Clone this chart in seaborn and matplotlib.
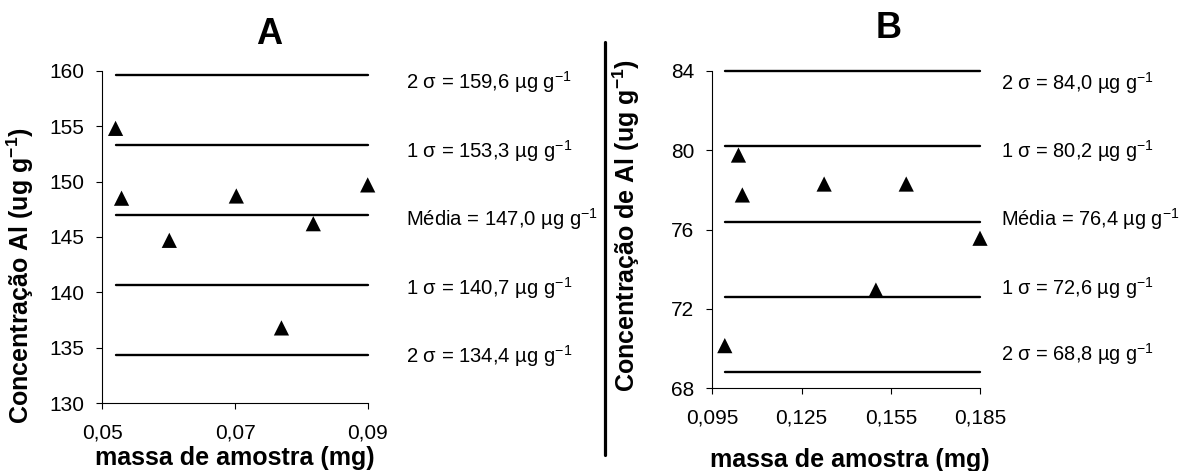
import numpy as np
import pandas as pd
import matplotlib
matplotlib.use("Agg")
import matplotlib.pyplot as plt
import seaborn as sns
from matplotlib.lines import Line2D

# ---------------- data ----------------
a_mass = [0.0520, 0.0529, 0.0601, 0.0702, 0.0770, 0.0818, 0.0900]
a_conc = [154.8, 148.5, 144.7, 148.7, 136.8, 146.2, 149.7]
a_levels = [159.6, 153.3, 147.0, 140.7, 134.4]
a_xticks = [0.05, 0.07, 0.09]
a_xticklabels = ["0,05", "0,07", "0,09"]
a_yticks = [130, 135, 140, 145, 150, 155, 160]

b_mass = [0.0992, 0.1038, 0.1051, 0.1326, 0.1500, 0.1602, 0.1850]
b_conc = [70.15, 79.75, 77.74, 78.29, 72.95, 78.29, 75.56]
b_levels = [84.0, 80.2, 76.4, 72.6, 68.8]
b_xticks = [0.095, 0.125, 0.155, 0.185]
b_xticklabels = ["0,095", "0,125", "0,155", "0,185"]
b_yticks = [68, 72, 76, 80, 84]

level_names = ["2 σ", "1 σ", "Média", "1 σ", "2 σ"]
unit = "µg g$^{-1}$"

# ---------------- style ----------------
sns.set_style("ticks")
plt.rcParams["font.family"] = ["Liberation Sans", "DejaVu Sans"]
plt.rcParams["mathtext.fontset"] = "custom"
plt.rcParams["mathtext.rm"] = "Liberation Sans"
plt.rcParams["mathtext.it"] = "Liberation Sans:italic"
plt.rcParams["mathtext.bf"] = "Liberation Sans:bold"
plt.rcParams["mathtext.default"] = "regular"
plt.rcParams["axes.edgecolor"] = "black"
plt.rcParams["text.color"] = "black"
plt.rcParams["xtick.color"] = "black"
plt.rcParams["ytick.color"] = "black"

W, H = 1181, 471
fig = plt.figure(figsize=(W / 100, H / 100), dpi=100)


def rect(l, t, r, b):
    return [l / W, 1 - b / H, (r - l) / W, (b - t) / H]


def fx(x):
    return x / W


def fy(y):
    return 1 - y / H


axA = fig.add_axes(rect(102.3, 70.7, 367.7, 403.3))
axB = fig.add_axes(rect(712.3, 70.7, 980.0, 388.3))


def draw(ax, mass, conc, levels, ylim, xticks, xticklabels, yticks):
    xmin, xmax = min(mass), max(mass)
    df_lines = pd.DataFrame({
        "x": [xmin, xmax] * len(levels),
        "y": np.repeat(levels, 2),
        "lvl": np.repeat(np.arange(len(levels)), 2),
    })
    sns.lineplot(data=df_lines, x="x", y="y", units="lvl", estimator=None,
                 color="black", lw=1.7, ax=ax, legend=False, clip_on=False)
    sns.scatterplot(x=mass, y=conc, marker="^", s=120, color="black",
                    edgecolor="none", ax=ax, clip_on=False, zorder=5,
                    legend=False)
    ax.set_xlim(xticks[0], xticks[-1])
    ax.set_ylim(ylim)
    ax.set_xticks(xticks)
    ax.set_xticklabels(xticklabels)
    ax.set_yticks(yticks)
    ax.set_yticklabels([str(v) for v in yticks])
    ax.set_xlabel("")
    ax.set_ylabel("")
    sns.despine(ax=ax)
    for s in ("left", "bottom"):
        ax.spines[s].set_linewidth(0.8)
        ax.spines[s].set_color("black")
    ax.tick_params(axis="both", direction="out", length=4.5, width=0.8,
                   color="black", labelsize=15, labelcolor="black")
    ax.tick_params(axis="y", pad=8.5)
    ax.tick_params(axis="x", pad=10)


draw(axA, a_mass, a_conc, a_levels, (a_yticks[0], a_yticks[-1]),
     a_xticks, a_xticklabels, a_yticks)
draw(axB, b_mass, b_conc, b_levels, (b_yticks[0], b_yticks[-1]),
     b_xticks, b_xticklabels, b_yticks)

# level annotations
row_centers_a = [81.7, 150, 218, 287, 355]
row_centers_b = [82, 150, 218, 287, 353]
for name, v, yc in zip(level_names, a_levels, row_centers_a):
    txt = f"{name} = {v:.1f}".replace(".", ",") + " " + unit
    fig.text(fx(406), fy(yc + 7.5), txt, fontsize=14.6, ha="left", va="baseline")
for name, v, yc in zip(level_names, b_levels, row_centers_b):
    txt = f"{name} = {v:.1f}".replace(".", ",") + " " + unit
    fig.text(fx(1001), fy(yc + 7.5), txt, fontsize=14.4, ha="left", va="baseline")

# titles
fig.text(fx(269.5), fy(44.3), "A", fontsize=26, fontweight="bold",
         ha="center", va="baseline")
fig.text(fx(889), fy(37.7), "B", fontsize=26, fontweight="bold",
         ha="center", va="baseline")

# axis labels
fig.text(fx(234.5), fy(465), "massa de amostra (mg)", fontsize=18,
         fontweight="bold", ha="center", va="baseline")
fig.text(fx(850), fy(466.5), "massa de amostra (mg)", fontsize=18,
         fontweight="bold", ha="center", va="baseline")
fig.text(fx(20.5), fy(276), "Concentração Al (ug g$^{-1}$)", fontsize=18,
         fontweight="bold", rotation=90, ha="center", va="center")
fig.text(fx(626), fy(226), "Concentração de Al (ug g$^{-1}$)", fontsize=18,
         fontweight="bold", rotation=90, ha="center", va="center")

# separator
fig.add_artist(Line2D([fx(605), fx(605)], [fy(42), fy(455)],
                      transform=fig.transFigure, color="black", lw=2.3))

fig.savefig("out.png", dpi=100)
